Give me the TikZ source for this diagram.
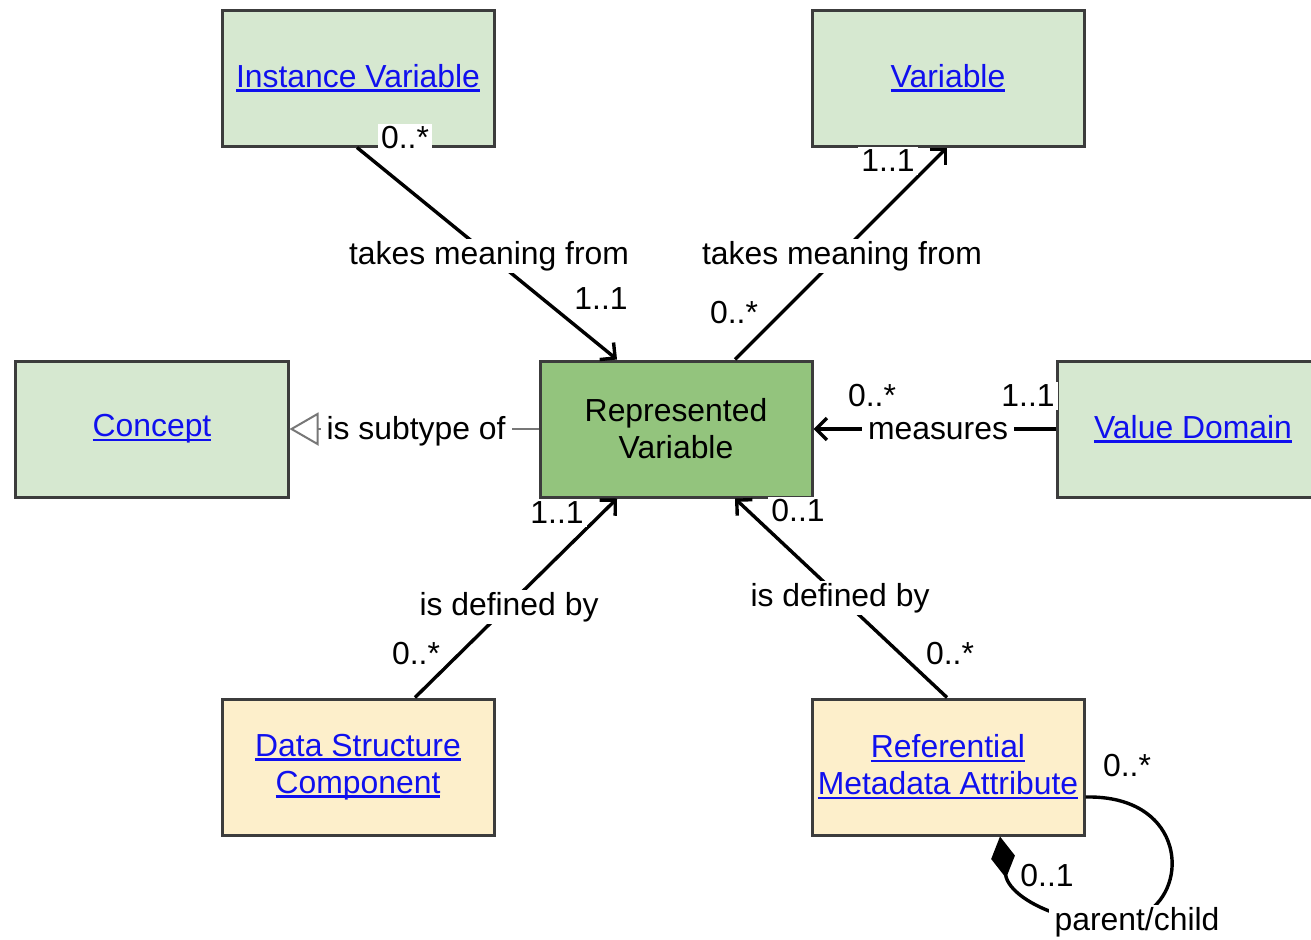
\documentclass[tikz,border=0pt]{standalone}
\usepackage{fontspec}
\setmainfont{Liberation Sans}
\usetikzlibrary{arrows.meta}
\definecolor{boxline}{HTML}{3C3C3C}
\definecolor{paleGreen}{HTML}{D6E8D0}
\definecolor{midGreen}{HTML}{93C47D}
\definecolor{paleSand}{HTML}{FDEFCB}
\definecolor{linkblue}{HTML}{1010EE}
\definecolor{genGray}{HTML}{777777}
% underlined hyperlink-style text
\newcommand\ulink[1]{\textcolor{linkblue}{\setbox0\hbox{#1}\rlap{\rule[-4.5bp]{\wd0}{2.6bp}}\box0}}
\begin{document}
\begin{tikzpicture}[x=1bp,y=-1bp,
  every node/.style={font=\fontsize{32}{37}\selectfont},
  cls/.style={draw=boxline, line width=3bp, minimum width=272bp, minimum height=136bp,
              align=center, inner sep=0pt},
  plain/.style={cls, fill=paleGreen},
  focus/.style={cls, fill=midGreen},
  extern/.style={cls, fill=paleSand},
  assoc/.style={line width=3.4bp, black, -{Straight Barb[length=11bp,width=22bp]}},
  lbl/.style={fill=white, inner xsep=6bp, inner ysep=2bp, text=black, yshift=-2bp},
  mult/.style={fill=white, inner sep=3bp, text=black, yshift=-1bp}]
\clip (0,0) rectangle (1311,939);
\fill[white] (0,0) rectangle (1311,939);

% classes
\node[plain]  (iv)  at (358,78)  {\ulink{Instance Variable}};
\node[plain]  (var) at (948,78)  {\ulink{Variable}};
\node[plain]  (con) at (152,429) {\ulink{Concept}};
\node[focus]  (rv)  at (676,429) {Represented\\Variable};
\node[plain]  (vd)  at (1193,429) {\ulink{Value Domain}};
\node[extern] (dsc) at (358,767) {\ulink{Data Structure}\\\ulink{Component}};
\node[extern] (rma) at (948,767) {\ulink{Referential}\\\ulink{Metadata Attribute}};

% associations
\draw[assoc] ([xshift=-1bp]iv.south) -- ([xshift=-59bp]rv.north);
\draw[assoc] ([xshift=59bp]rv.north) -- ([xshift=-1bp]var.south);
\draw[assoc] (vd.west) -- (rv.east);
\draw[assoc] ([xshift=57bp]dsc.north) -- ([xshift=-59bp]rv.south);
\draw[assoc] ([xshift=-1bp]rma.north) -- ([xshift=59bp]rv.south);

% generalization
\draw[genGray, line width=2bp, -{Triangle[open, length=29bp, width=33bp, fill=white, line width=2bp]}]
  (rv.west) -- (con.east);

% composition loop
\draw[line width=3.4bp, {Diamond[fill=black, length=42bp, width=24bp]}-]
  ([xshift=52bp]rma.south) .. controls (1010,905) and (1100,940) .. (1150,910)
  .. controls (1190,880) and (1180,795) .. ([yshift=-30bp]rma.east);

% association names
\node[lbl] at (489,254) {takes meaning from};
\node[lbl] at (842,254) {takes meaning from};
\node[lbl] at (416,429) {is subtype of};
\node[lbl] at (938,429) {measures};
\node[lbl] at (509,605) {is defined by};
\node[lbl] at (840,596) {is defined by};
\node[lbl] at (1137,920) {parent/child};

% multiplicities
\node[mult] at (405,137) {0..*};
\node[mult] at (601,298) {1..1};
\node[mult] at (734,312) {0..*};
\node[mult] at (888,160) {1..1};
\node[mult] at (872,395) {0..*};
\node[mult] at (1028,395) {1..1};
\node[mult] at (557,512) {1..1};
\node[mult] at (798,510) {0..1};
\node[mult] at (416,653) {0..*};
\node[mult] at (950,653) {0..*};
\node[mult] at (1127,765) {0..*};
\node[mult] at (1047,875) {0..1};
\end{tikzpicture}
\end{document}
